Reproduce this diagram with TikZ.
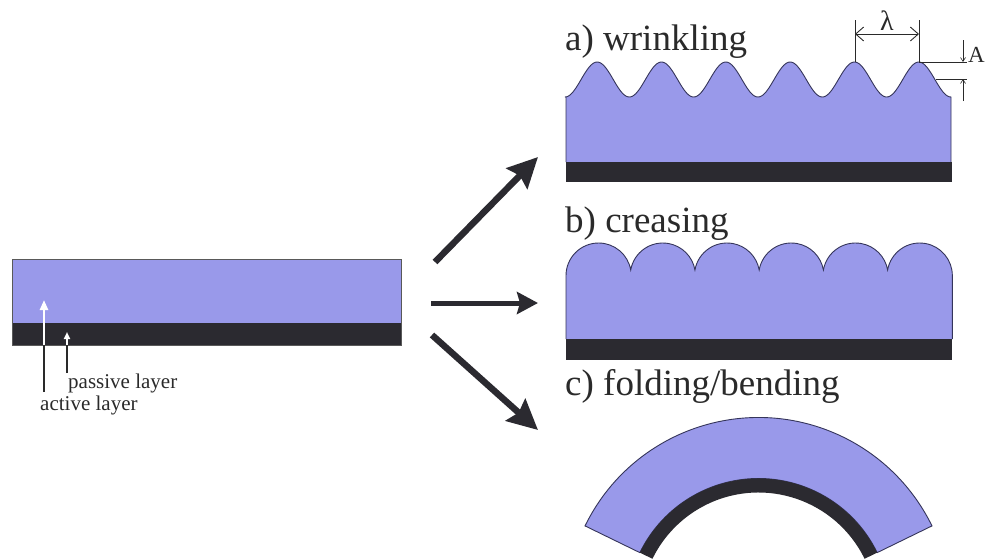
\documentclass[tikz,border=0pt]{standalone}
\usepackage{fontspec}
\setmainfont{Liberation Serif}
\usetikzlibrary{arrows.meta}
\definecolor{active}{HTML}{9999EA}
\definecolor{passive}{HTML}{2B2A30}
\definecolor{edge}{HTML}{35355A}
\definecolor{ink}{HTML}{2A2A2A}

\begin{document}
\begin{tikzpicture}[x=1pt,y=-1pt,
  activefill/.style={fill=active,draw=edge,line width=0.9pt},
  passivefill/.style={fill=passive},
  title/.style={anchor=base west,inner sep=0,text=ink,font=\fontsize{37}{44}\selectfont},
  small/.style={anchor=base west,inner sep=0,text=ink,font=\fontsize{21}{25}\selectfont},
  dimline/.style={draw=ink,line width=0.9pt},
  bigarrow/.style={draw=passive,line width=6.5pt,-{Stealth[length=30pt,width=29pt,inset=4pt]}},
  midarrow/.style={draw=passive,line width=5pt,-{Stealth[length=21pt,width=22pt,inset=3pt]}},
  pointer/.style={draw=ink,line width=2.4pt},
]
\useasboundingbox (0,0) rectangle (985,558);

% ---------- initial bilayer ----------
\fill[active] (12,259) rectangle (401,323);
\fill[passivefill] (12,323) rectangle (401,345);
\draw[draw=gray!70!black,line width=0.8pt] (12,259) rectangle (401,345);

\node[small] (act) at (40,410) {active layer};
\node[small] (pas) at (68,388) {passive layer};
\coordinate (actfoot) at (44,392);
\coordinate (actbase) at (44,345);
\coordinate (acttip) at (44,300);
\coordinate (pasfoot) at (67,373);
\coordinate (pasbase) at (67,345);
\coordinate (pastip) at (67,332);
\draw[pointer] (actfoot) -- (actbase);
\draw[pointer,draw=white,-{Triangle[length=10pt,width=8pt]}] (actbase) -- (acttip);
\draw[pointer] (pasfoot) -- (pasbase);
\draw[pointer,draw=white,-{Triangle[length=7pt,width=6pt]}] (pasbase) -- (pastip);

% ---------- transition arrows ----------
\coordinate (up0) at (435,262);   \coordinate (up1) at (538,157);
\coordinate (mid0) at (431,303);  \coordinate (mid1) at (538,303);
\coordinate (lo0) at (432,335);   \coordinate (lo1) at (538,430);
\draw[bigarrow] (up0) -- (up1);
\draw[midarrow] (mid0) -- (mid1);
\draw[bigarrow] (lo0) -- (lo1);

% ---------- a) wrinkling ----------
\node[title] (ta) at (565,50) {a) wrinkling};
\fill[active] (566,162) -- (566,97)
  -- plot[domain=0:6,samples=241,smooth] ({565+64.33*\x},{79.5+17.5*cos(360*\x)})
  -- (951,97) -- (951,162) -- cycle;
\draw[draw=edge,line width=0.9pt] (566,162) -- (566,97)
  -- plot[domain=0:6,samples=241,smooth] ({565+64.33*\x},{79.5+17.5*cos(360*\x)})
  -- (951,97) -- (951,162);
\fill[passivefill] (566,162) rectangle (952,182);

% wavelength
\coordinate (p5) at (855,62);  \coordinate (p5t) at (855,20);
\coordinate (p6) at (919,62);  \coordinate (p6t) at (919,20);
\draw[dimline] (p5) -- (p5t);
\draw[dimline] (p6) -- (p6t);
\coordinate (l0) at (855,34); \coordinate (l1) at (919,34);
\draw[dimline,{Straight Barb[length=8pt,width=14pt]}-{Straight Barb[length=8pt,width=14pt]}] (l0) -- (l1);
\node[anchor=base,inner sep=0,text=ink,font=\fontsize{28}{32}\selectfont] (lam) at (887,30) {λ};

% amplitude
\coordinate (a0) at (919,62);  \coordinate (a1) at (967,62);
\coordinate (b0) at (936,79);  \coordinate (b1) at (967,79);
\draw[dimline] (a0) -- (a1);
\draw[dimline] (b0) -- (b1);
\coordinate (ad0) at (963,40); \coordinate (ad1) at (963,62);
\coordinate (au0) at (963,101); \coordinate (au1) at (963,79);
\draw[dimline,line width=0.6pt,-{Straight Barb[length=4pt,width=5pt]}] (ad0) -- (ad1);
\draw[dimline,line width=0.6pt,-{Straight Barb[length=4pt,width=5pt]}] (au0) -- (au1);
\node[anchor=base west,inner sep=0,text=ink,font=\fontsize{23}{27}\selectfont] (amp) at (968,62) {A};

% ---------- b) creasing ----------
\node[title] (tb) at (565,232) {b) creasing};
\fill[active] (566,339) -- (566,275.6)
  arc[start angle=180,end angle=350.1,radius=32.6]
  arc[start angle=189.9,end angle=350.1,radius=32.6]
  arc[start angle=189.9,end angle=350.1,radius=32.6]
  arc[start angle=189.9,end angle=350.1,radius=32.6]
  arc[start angle=189.9,end angle=350.1,radius=32.6]
  arc[start angle=189.9,end angle=360,radius=32.6]
  -- (952.4,339) -- cycle;
\draw[draw=edge,line width=0.9pt] (566,339) -- (566,275.6)
  arc[start angle=180,end angle=350.1,radius=32.6]
  arc[start angle=189.9,end angle=350.1,radius=32.6]
  arc[start angle=189.9,end angle=350.1,radius=32.6]
  arc[start angle=189.9,end angle=350.1,radius=32.6]
  arc[start angle=189.9,end angle=350.1,radius=32.6]
  arc[start angle=189.9,end angle=360,radius=32.6]
  -- (952.4,339);
\fill[passivefill] (566,339) rectangle (952.4,360);

% ---------- c) folding/bending ----------
\node[title] (tc) at (565,395) {c) folding/bending};
\coordinate (fc) at (758.5,610.5);
\filldraw[activefill] ([shift={(fc)}]206:193) arc[start angle=206,end angle=334,radius=193]
  -- ([shift={(fc)}]334:132) arc[start angle=334,end angle=206,radius=132] -- cycle;
\fill[passivefill] ([shift={(fc)}]206:132) arc[start angle=206,end angle=334,radius=132]
  -- ([shift={(fc)}]334:118) arc[start angle=334,end angle=206,radius=118] -- cycle;
\end{tikzpicture}
\end{document}
